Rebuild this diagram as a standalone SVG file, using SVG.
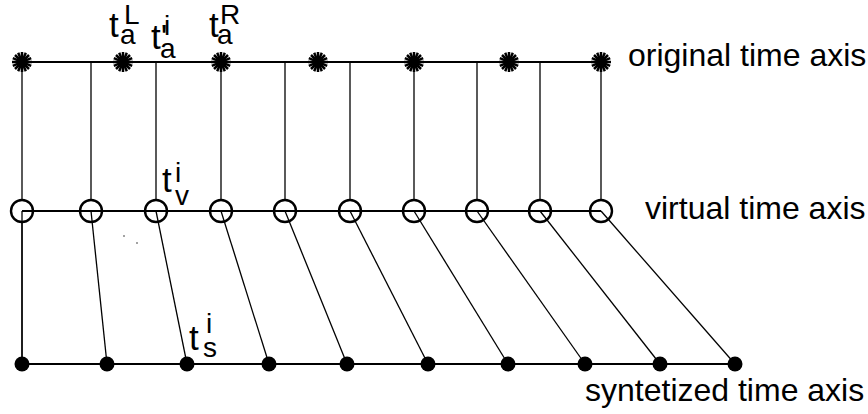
<svg xmlns="http://www.w3.org/2000/svg" width="868" height="414" viewBox="0 0 868 414">
<style>
.axis{stroke:#000;stroke-width:2.2;fill:none}
.conn{stroke:#000;stroke-width:1.3;fill:none}
.star{stroke:#000;stroke-width:2.5}
.circ{fill:#fff;stroke:#000;stroke-width:2.4}
.dot{fill:#000}
.lbl{font-family:"Liberation Sans",Arial,sans-serif;font-size:32px;fill:#000}
.m{font-family:"Liberation Sans",Arial,sans-serif;font-size:35px;fill:#000}
.s{font-size:28px}
</style>
<defs>
<g id="ast">
<line class="star" x1="-10" y1="0" x2="10" y2="0"/>
<line class="star" x1="0" y1="-10" x2="0" y2="10"/>
<line class="star" x1="-7" y1="-7" x2="7" y2="7"/>
<line class="star" x1="-7" y1="7" x2="7" y2="-7"/>
<line class="star" x1="-3.8" y1="-9.2" x2="3.8" y2="9.2"/>
<line class="star" x1="3.8" y1="-9.2" x2="-3.8" y2="9.2"/>
<line class="star" x1="-9.2" y1="-3.8" x2="9.2" y2="3.8"/>
<line class="star" x1="-9.2" y1="3.8" x2="9.2" y2="-3.8"/>
</g>
</defs>
<g id="connectors">
<line class="conn" x1="22" y1="62" x2="22" y2="364"/>
<line class="conn" x1="91" y1="62" x2="91" y2="211"/>
<line class="conn" x1="156" y1="62" x2="156" y2="211"/>
<line class="conn" x1="221" y1="62" x2="221" y2="211"/>
<line class="conn" x1="285" y1="62" x2="285" y2="211"/>
<line class="conn" x1="350" y1="62" x2="350" y2="211"/>
<line class="conn" x1="414" y1="62" x2="414" y2="211"/>
<line class="conn" x1="477" y1="62" x2="477" y2="211"/>
<line class="conn" x1="540" y1="62" x2="540" y2="211"/>
<line class="conn" x1="601" y1="62" x2="601" y2="211"/>
</g>
<g id="virtual-axis">
<circle class="circ" cx="22" cy="211" r="11"/>
<circle class="circ" cx="91" cy="211" r="11"/>
<circle class="circ" cx="156" cy="211" r="11"/>
<circle class="circ" cx="221" cy="211" r="11"/>
<circle class="circ" cx="285" cy="211" r="11"/>
<circle class="circ" cx="350" cy="211" r="11"/>
<circle class="circ" cx="414" cy="211" r="11"/>
<circle class="circ" cx="477" cy="211" r="11"/>
<circle class="circ" cx="540" cy="211" r="11"/>
<circle class="circ" cx="601" cy="211" r="11"/>
<line class="axis" x1="22" y1="211" x2="601" y2="211"/>
<line class="conn" x1="22" y1="211" x2="22" y2="364"/>
</g>
<g id="diagonals">
<line class="conn" x1="91" y1="211" x2="107" y2="364"/>
<line class="conn" x1="156" y1="211" x2="187" y2="364"/>
<line class="conn" x1="221" y1="211" x2="269" y2="364"/>
<line class="conn" x1="285" y1="211" x2="347" y2="364"/>
<line class="conn" x1="350" y1="211" x2="428" y2="364"/>
<line class="conn" x1="414" y1="211" x2="508" y2="364"/>
<line class="conn" x1="477" y1="211" x2="585" y2="364"/>
<line class="conn" x1="540" y1="211" x2="660" y2="364"/>
<line class="conn" x1="601" y1="211" x2="735" y2="364"/>
</g>
<g id="original-axis">
<line class="axis" x1="22" y1="62" x2="601" y2="62"/>
<use href="#ast" x="22" y="62"/>
<use href="#ast" x="123" y="62"/>
<use href="#ast" x="221" y="62"/>
<use href="#ast" x="318" y="62"/>
<use href="#ast" x="414" y="62"/>
<use href="#ast" x="509" y="62"/>
<use href="#ast" x="601" y="62"/>
</g>
<g id="synth-axis">
<line class="axis" x1="22" y1="364" x2="735" y2="364"/>
<circle class="dot" cx="22" cy="364" r="7.5"/>
<circle class="dot" cx="107" cy="364" r="7.5"/>
<circle class="dot" cx="187" cy="364" r="7.5"/>
<circle class="dot" cx="269" cy="364" r="7.5"/>
<circle class="dot" cx="347" cy="364" r="7.5"/>
<circle class="dot" cx="428" cy="364" r="7.5"/>
<circle class="dot" cx="508" cy="364" r="7.5"/>
<circle class="dot" cx="585" cy="364" r="7.5"/>
<circle class="dot" cx="660" cy="364" r="7.5"/>
<circle class="dot" cx="735" cy="364" r="7.5"/>
</g>
<g id="specks">
<circle class="dot" cx="124" cy="236" r="0.7"/>
<circle class="dot" cx="137" cy="243" r="0.7"/>
</g>
<g id="labels">
<text class="lbl" x="628" y="66">original time axis</text>
<text class="lbl" x="645" y="219">virtual time axis</text>
<text class="lbl" x="585" y="401">syntetized time axis</text>
</g>
<g id="label-taL">
<text class="m"><tspan x="109" y="37">t</tspan><tspan class="s" x="124" y="24">L</tspan><tspan class="s" x="120" y="44">a</tspan></text>
</g>
<g id="label-tai">
<text class="m"><tspan x="151" y="49">t'</tspan><tspan class="s" x="164" y="35">i</tspan><tspan class="s" x="160" y="58">a</tspan></text>
</g>
<g id="label-taR">
<text class="m"><tspan x="209" y="37">t</tspan><tspan class="s" x="220" y="24">R</tspan><tspan class="s" x="217" y="44">a</tspan></text>
</g>
<g id="label-tv">
<text class="m"><tspan x="162" y="192">t</tspan><tspan class="s" x="175" y="182">i</tspan><tspan class="s" x="175" y="205">v</tspan></text>
</g>
<g id="label-ts">
<text class="m"><tspan x="189" y="350">t</tspan><tspan class="s" x="206" y="333">i</tspan><tspan class="s" x="203" y="357">s</tspan></text>
</g>
</svg>
